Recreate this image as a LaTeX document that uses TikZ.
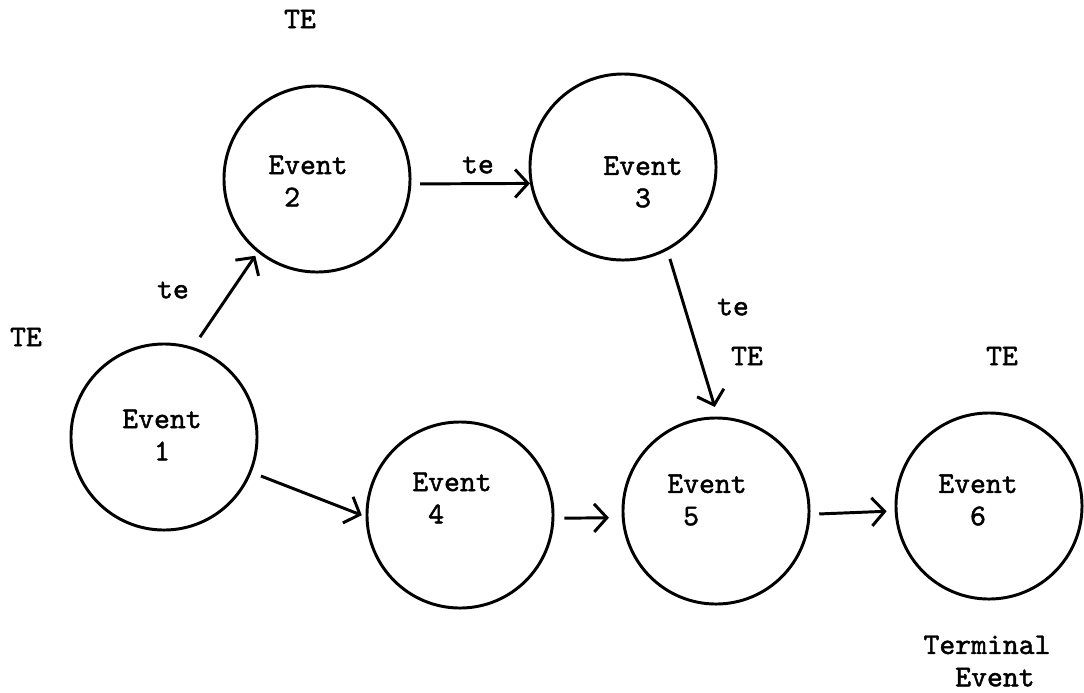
\documentclass[tikz,border=0pt]{standalone}
\usepackage{fontspec}
\usepackage{tikz}
\usetikzlibrary{arrows.meta}

\newfontfamily\typew{lmmono10-regular.otf}[FakeBold=1.5]

\tikzset{
  event/.style={circle, draw, line width=2.1pt, minimum size=4.65cm, inner sep=0pt},
  lbl/.style={font=\fontsize{21.5}{23}\selectfont\typew\bfseries, inner sep=0pt, align=left},
  arr/.style={line width=2.1pt, -{Straight Barb[length=0.32cm,width=0.7cm]}},
}

\begin{document}
\begin{tikzpicture}[x=0.025cm, y=-0.025cm]
\useasboundingbox (0,0) rectangle (1084,692);

% Events
\node[event] (ev1) at (164,437) {};
\node[event] (ev2) at (317,179) {};
\node[event] (ev3) at (623,167) {};
\node[event] (ev4) at (460,515) {};
\node[event] (ev5) at (716,511) {};
\node[event] (ev6) at (989,506) {};

% Texts in the circles
\node[lbl] (t1) at (162,435) {Event\\\hphantom{Ev}1};
\node[lbl] (t2) at (308,181) {Event\\\hphantom{E}2};
\node[lbl] (t3) at (643,182) {Event\\\hphantom{Ev}3};
\node[lbl] (t4) at (452,498) {Event\\\hphantom{E}4};
\node[lbl] (t5) at (707,500) {Event\\\hphantom{E}5};
\node[lbl] (t6) at (978,500) {Event\\\hphantom{Ev}6};

% Arrows
\draw[arr, shorten <=0.3cm, shorten >=0.1cm] (ev1.72) -- (ev2.231);
\draw[arr, shorten <=0.22cm] (ev2.357) -- (ev3.190);
\draw[arr, shorten <=0.22cm, shorten >=0.25cm] (ev3.298) -- (ev5.89);
\draw[arr, shorten <=0.25cm, shorten >=0.1cm] (ev1.338) -- (ev4.181);
\draw[arr, shorten <=0.25cm, shorten >=0.32cm] (ev4.358) -- (ev5.184);
\draw[arr, shorten <=0.22cm, shorten >=0.2cm] (ev5.358) -- (ev6.183);

% Times
\node[lbl] (te12) at (173,290) {te};
\node[lbl] (te23) at (478,165) {te};
\node[lbl] (te35) at (733,307) {te};
\node[lbl] (TE1) at (26,337) {TE};
\node[lbl] (TE2) at (300,19) {TE};
\node[lbl] (TE5) at (747,356) {TE};
\node[lbl] (TE6) at (1002,356) {TE};

% Terminal event
\node[lbl] (term) at (987,661) {Terminal\\\hphantom{Te}Event};
\end{tikzpicture}
\end{document}
